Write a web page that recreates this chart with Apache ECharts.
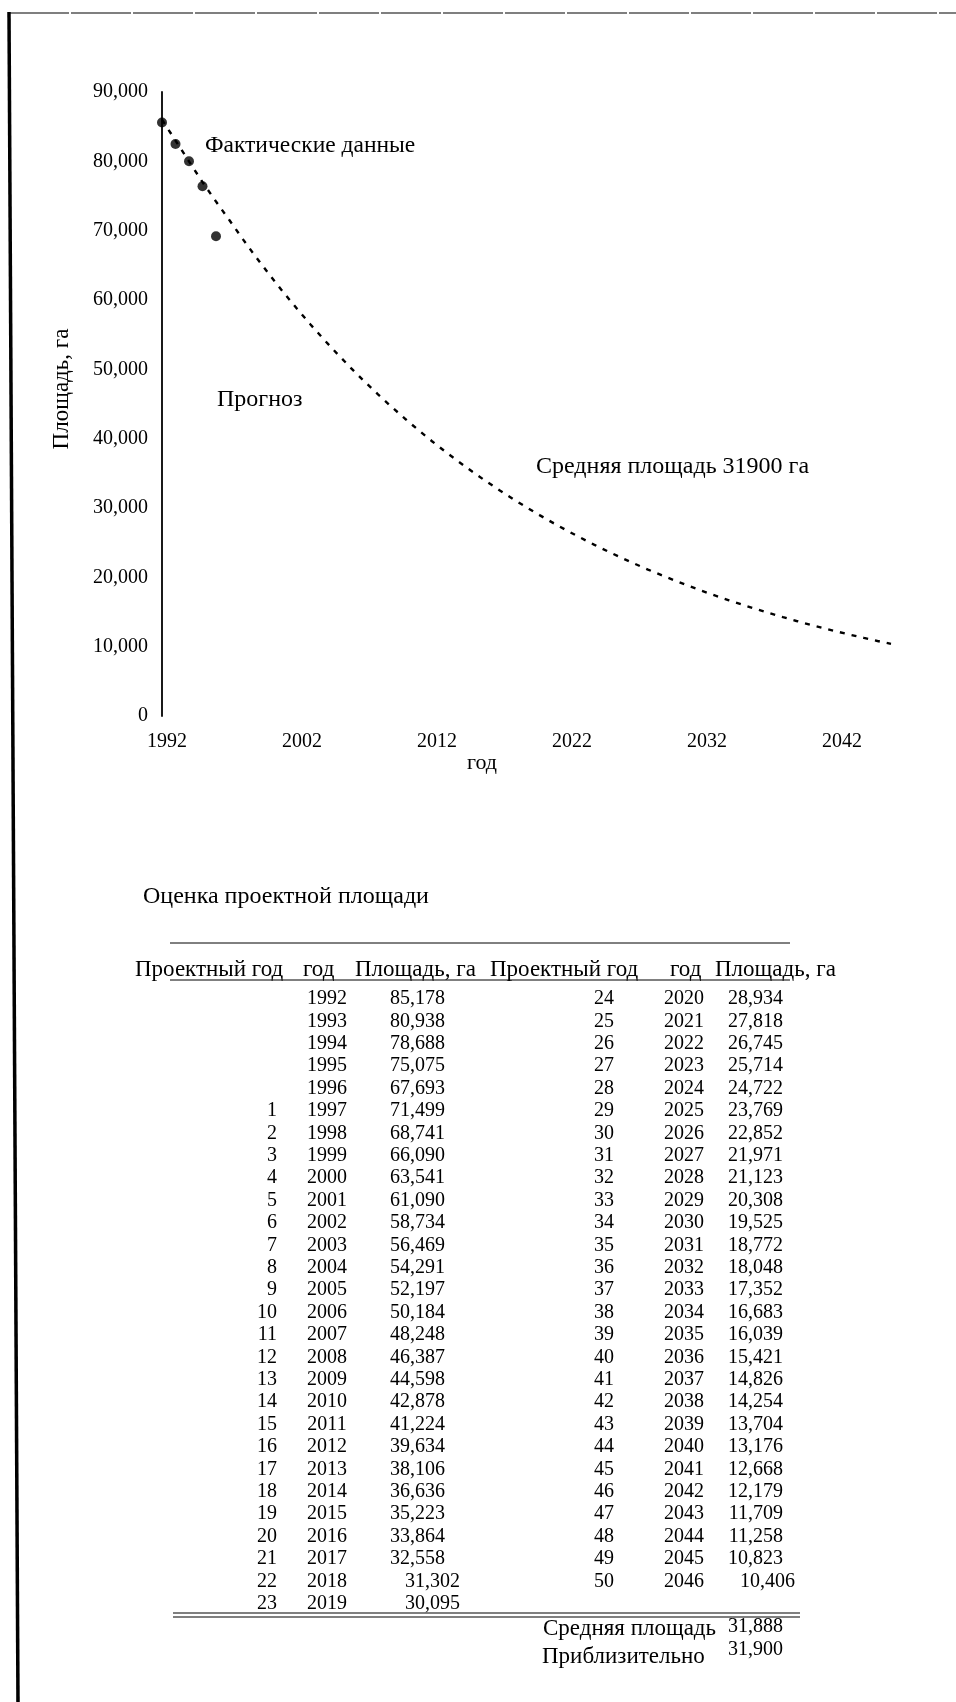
<!DOCTYPE html>
<html lang="ru">
<head>
	<meta charset="UTF-8">
	<title>Оценка проектной площади</title>
	<script type="text/javascript" src="https://cdn.jsdelivr.net/npm/echarts@6.0.0/dist/echarts.min.js"></script>
	<style type="text/css">
	html, body{margin: 0; padding: 0; background: #fff;}
	#container{width: 956px; height: 1702px;}
	</style>
</head>
<body>
	<div id="container"></div>
	<script type="text/javascript">
		// годы и площадь, га (таблица)
		var years = [1992, 1993, 1994, 1995, 1996, 1997, 1998, 1999, 2000, 2001,
			2002, 2003, 2004, 2005, 2006, 2007, 2008, 2009, 2010, 2011,
			2012, 2013, 2014, 2015, 2016, 2017, 2018, 2019, 2020, 2021,
			2022, 2023, 2024, 2025, 2026, 2027, 2028, 2029, 2030, 2031,
			2032, 2033, 2034, 2035, 2036, 2037, 2038, 2039, 2040, 2041,
			2042, 2043, 2044, 2045, 2046];
		var areas = [85178, 80938, 78688, 75075, 67693, 71499, 68741, 66090, 63541, 61090,
			58734, 56469, 54291, 52197, 50184, 48248, 46387, 44598, 42878, 41224,
			39634, 38106, 36636, 35223, 33864, 32558, 31302, 30095, 28934, 27818,
			26745, 25714, 24722, 23769, 22852, 21971, 21123, 20308, 19525, 18772,
			18048, 17352, 16683, 16039, 15421, 14826, 14254, 13704, 13176, 12668,
			12179, 11709, 11258, 10823, 10406];
		// точки "Фактические данные" на графике
		var factYears = [1992, 1993, 1994, 1995, 1996];
		var factDots = [85600, 82500, 80000, 76400, 69200];
		// начало пунктирной линии прогноза до 1997
		var lineStart = [86000, 83000, 80000, 77000, 74200];
		var yTicks = [0, 10000, 20000, 30000, 40000, 50000, 60000, 70000, 80000, 90000];
		var xTicks = [1992, 2002, 2012, 2022, 2032, 2042];
		var avgArea = 31888;
		var avgRound = 31900;

		var SERIF = '"Liberation Serif", "DejaVu Serif", serif';
		function fmt(v){ return v.toLocaleString('en-US'); }

		var lineData = [];
		for (var i = 0; i < years.length; i++) {
			lineData.push([years[i], i < 5 ? lineStart[i] : areas[i]]);
		}
		var dotData = factYears.map(function(y, i){ return [y, factDots[i]]; });

		function txt(s, x, y, opt){
			opt = opt || {};
			return {
				type: 'text', x: x, y: y, rotation: opt.rot || 0, silent: true,
				style: {
					text: s, fill: '#000', font: (opt.size || 20) + 'px ' + SERIF,
					align: opt.align || 'left', verticalAlign: 'middle'
				}
			};
		}
		function hline(x1, x2, y, w){
			return {type: 'line', silent: true, shape: {x1: x1, y1: y, x2: x2, y2: y},
				style: {stroke: '#000', lineWidth: w || 1}};
		}

		var g = [];
		// рамка страницы
		g.push({type: 'line', silent: true, shape: {x1: 9, y1: 12, x2: 18, y2: 1702}, style: {stroke: '#000', lineWidth: 3.5}});
		g.push({type: 'line', silent: true, shape: {x1: 9, y1: 13, x2: 956, y2: 13}, style: {stroke: '#000', lineWidth: 1.2, lineDash: [60, 2]}});

		// подписи графика
		g.push(txt('Площадь, га', 62, 389, {rot: Math.PI / 2, align: 'center', size: 23}));
		g.push(txt('год', 482, 763, {align: 'center', size: 22}));
		g.push(txt('Фактические данные', 205, 146, {size: 23.5}));
		g.push(txt('Прогноз', 217, 400, {size: 24}));
		g.push(txt('Средняя площадь ' + avgRound + ' га', 536, 467, {size: 24}));

		// таблица
		var rowY0 = 999, rowH = 22.4;
		g.push(txt('Оценка проектной площади', 143, 897, {size: 24}));
		g.push(hline(170, 790, 943, 1));
		g.push(txt('Проектный год', 135, 970, {size: 23}));
		g.push(txt('год', 303, 970, {size: 23}));
		g.push(txt('Площадь, га', 355, 970, {size: 23}));
		g.push(txt('Проектный год', 490, 970, {size: 23}));
		g.push(txt('год', 670, 970, {size: 23}));
		g.push(txt('Площадь, га', 715, 970, {size: 23}));
		g.push(hline(170, 790, 980, 1));
		for (var k = 0; k < years.length; k++) {
			var left = k < 28;
			var r = left ? k : k - 28;
			var y = rowY0 + r * rowH;
			if (k >= 5) g.push(txt(String(k - 4), left ? 277 : 614, y, {align: 'right'}));
			g.push(txt(String(years[k]), left ? 327 : 684, y, {align: 'center'}));
			var shift = (k === 26 || k === 27) ? 15 : (k === 54 ? 12 : 0);
			g.push(txt(fmt(areas[k]), (left ? 445 : 783) + shift, y, {align: 'right'}));
		}
		g.push(hline(173, 800, 1613, 1.2));
		g.push(hline(173, 800, 1617, 1.2));
		g.push(txt('Средняя площадь', 543, 1629, {size: 23}));
		g.push(txt(fmt(avgArea), 783, 1627, {align: 'right'}));
		g.push(txt('Приблизительно', 542, 1657, {size: 23}));
		g.push(txt(fmt(avgRound), 783, 1650, {align: 'right'}));

		var myChart = echarts.init(document.getElementById('container'));
		var option = {
			backgroundColor: '#fff',
			animation: false,
			grid: {left: 162, top: 92, width: 729, height: 624},
			xAxis: {
				type: 'value', min: 1992, max: 2046, interval: 10,
				axisLine: {show: false}, axisTick: {show: false}, splitLine: {show: false},
				axisLabel: {
					margin: 16, color: '#000', fontSize: 20, fontFamily: SERIF, padding: [0, 0, 0, 10],
					formatter: function(v){ return xTicks.indexOf(v) >= 0 ? String(v) : ''; }
				}
			},
			yAxis: {
				type: 'value', min: 0, max: 90000, interval: 10000,
				axisLine: {show: true, lineStyle: {color: '#000', width: 1.8}},
				axisTick: {show: false}, splitLine: {show: false},
				axisLabel: {
					margin: 14, color: '#000', fontSize: 20, fontFamily: SERIF,
					formatter: function(v){ return yTicks.indexOf(v) >= 0 ? fmt(v) : ''; }
				}
			},
			series: [
				{
					name: 'Прогноз', type: 'line', data: lineData, showSymbol: false, silent: true,
					lineStyle: {color: '#000', width: 2.4, type: [5, 7]}
				},
				{
					name: 'Фактические данные', type: 'scatter', data: dotData, symbolSize: 10,
					itemStyle: {color: '#000'}, z: 3
				}
			],
			graphic: g
		};
		myChart.setOption(option);
	</script>
</body>
</html>
